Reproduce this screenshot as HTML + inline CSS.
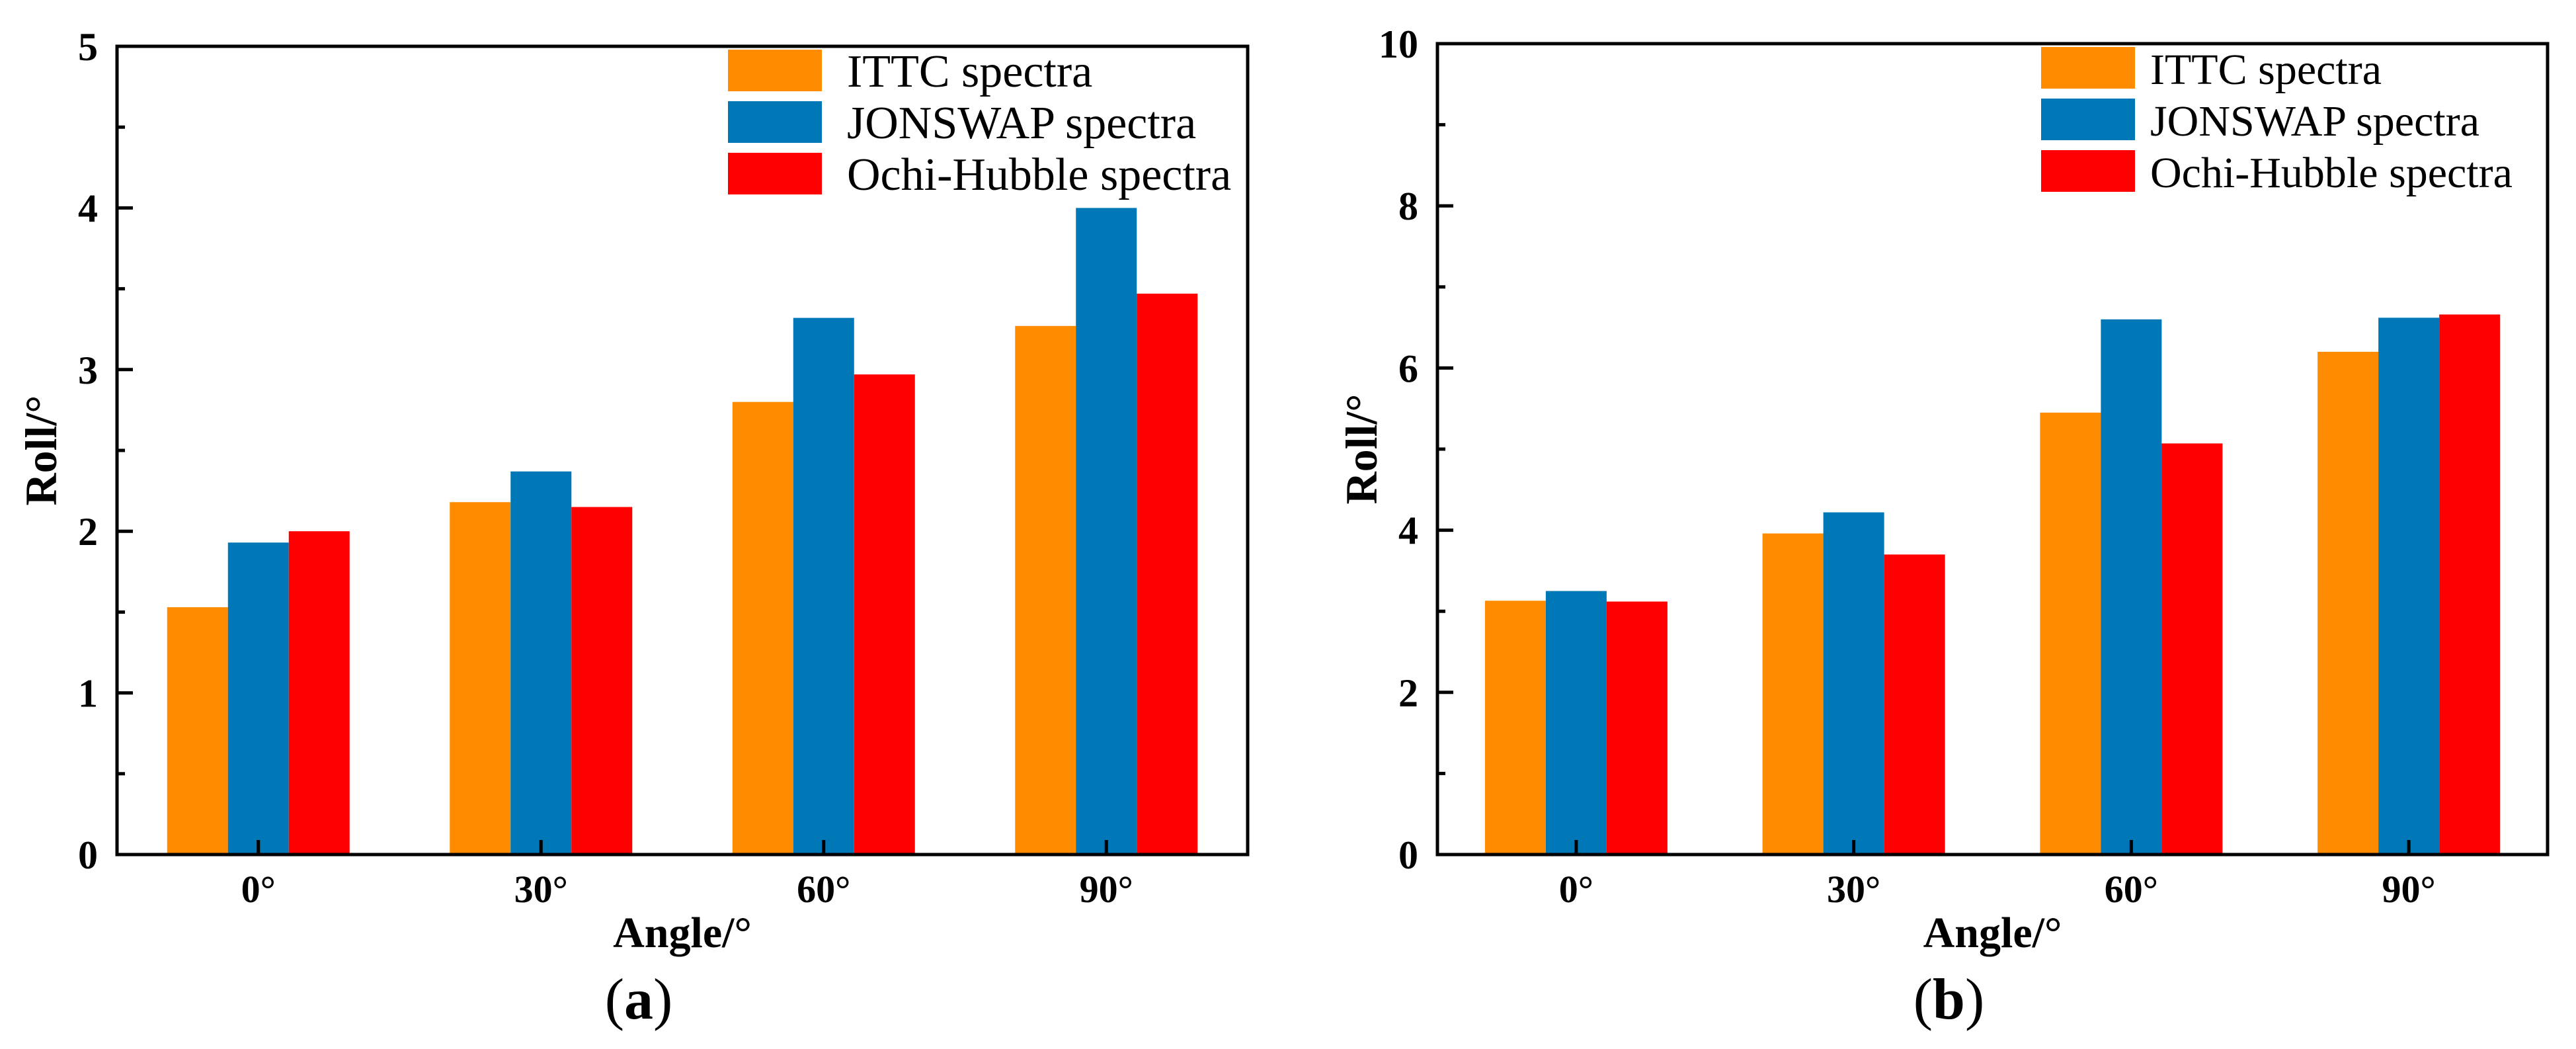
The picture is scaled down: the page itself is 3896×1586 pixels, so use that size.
<!DOCTYPE html>
<html><head><meta charset="utf-8"><style>
html,body{margin:0;padding:0;background:#fff;}
svg{display:block;}
text{font-family:"Liberation Serif",serif;}
</style></head>
<body>
<svg id="fig" width="3896" height="1586" viewBox="0 0 3896 1586" xmlns="http://www.w3.org/2000/svg"></svg>
<script>
const categories = ["0°","30°","60°","90°"];
const seriesNames = ["ITTC spectra","JONSWAP spectra","Ochi-Hubble spectra"];
const ittcA = [1.53, 2.18, 2.80, 3.27];
const jonswapA = [1.93, 2.37, 3.32, 4.00];
const ochiA = [2.00, 2.15, 2.97, 3.47];
const ittcB = [3.13, 3.96, 5.45, 6.20];
const jonswapB = [3.25, 4.22, 6.60, 6.62];
const ochiB = [3.12, 3.70, 5.07, 6.66];
const yTicksA = [0,1,2,3,4,5];
const yTicksB = [0,2,4,6,8,10];

const NS = "http://www.w3.org/2000/svg";
const svg = document.getElementById('fig');
const colors = ["#FF8C00","#0077B6","#FF0000"];
function mk(tag, attrs, parent){
  const e = document.createElementNS(NS, tag);
  for (const k in attrs) e.setAttribute(k, attrs[k]);
  (parent||svg).appendChild(e);
  return e;
}
function panel(id, L, R, T, B, ymax, yTicks, minorStep, series, label, legX, legFont, legOff){
  const g = mk('g', {});
  
  
  const y = v => B - v/ymax*(B-T);
  const step = (R-L)/categories.length;
  const xc = i => L + step*(i+0.5);
  const bw = 92;
  series.forEach((vals, s) => {
    vals.forEach((v, i) => {
      const r = mk('rect', {x: xc(i) - 1.5*bw + s*bw, y: y(v), width: bw, height: B - y(v), fill: colors[s]}, g);
      
      
    });
  });
  const fr = mk('rect', {x: L, y: T, width: R-L, height: B-T, fill: 'none', stroke: '#000', 'stroke-width': 5}, g);
  
  
  yTicks.forEach(v => {
    mk('line', {x1: L, x2: L+24, y1: y(v), y2: y(v), stroke: '#000', 'stroke-width': 5}, g);
    const t = mk('text', {x: L-29, y: y(v)+21, 'text-anchor': 'end', 'font-size': 60, 'font-weight': 'bold'}, g);
    t.textContent = v;
    
    
  });
  for (let v = minorStep; v < ymax; v += 2*minorStep) {
    mk('line', {x1: L, x2: L+12, y1: y(v), y2: y(v), stroke: '#000', 'stroke-width': 5}, g);
  }
  categories.forEach((c, i) => {
    mk('line', {x1: xc(i), x2: xc(i), y1: B, y2: B-22, stroke: '#000', 'stroke-width': 5}, g);
    const t = mk('text', {x: xc(i), y: B+72, 'text-anchor': 'middle', 'font-size': 58, 'font-weight': 'bold'}, g);
    t.textContent = c;
    
    
  });
  const xt = mk('text', {x: (L+R)/2, y: B+140, 'text-anchor': 'middle', 'font-size': 66, 'font-weight': 'bold'}, g);
  xt.textContent = 'Angle/°';
  
  
  const yt = mk('text', {x: 0, y: 0, 'text-anchor': 'middle', 'font-size': 68, 'font-weight': 'bold', transform: 'translate(' + (L-92) + ',' + ((T+B)/2) + ') rotate(-90)'}, g);
  yt.textContent = 'Roll/°';
  
  
  const cap = mk('text', {x: (L+R)/2 - 66, y: 1540, 'text-anchor': 'middle', 'font-size': 88}, g);
  cap.innerHTML = '(<tspan font-weight="bold">' + label + '</tspan>)';
  
  
  seriesNames.forEach((n, s) => {
    const ty = T + 5 + s*78;
    const sw = mk('rect', {x: legX, y: ty, width: 142, height: 63, fill: colors[s]}, g);
    
    
    const t = mk('text', {x: legX + legOff, y: ty + 56, 'font-size': legFont}, g);
    t.textContent = n;
    
    
  });
}
panel('a', 177, 1887, 70, 1292, 5, yTicksA, 0.5, [ittcA, jonswapA, ochiA], 'a', 1101, 70, 180);
panel('b', 2174, 3853, 66, 1292, 10, yTicksB, 1, [ittcB, jonswapB, ochiB], 'b', 3087, 66, 165);
</script>
</body></html>
